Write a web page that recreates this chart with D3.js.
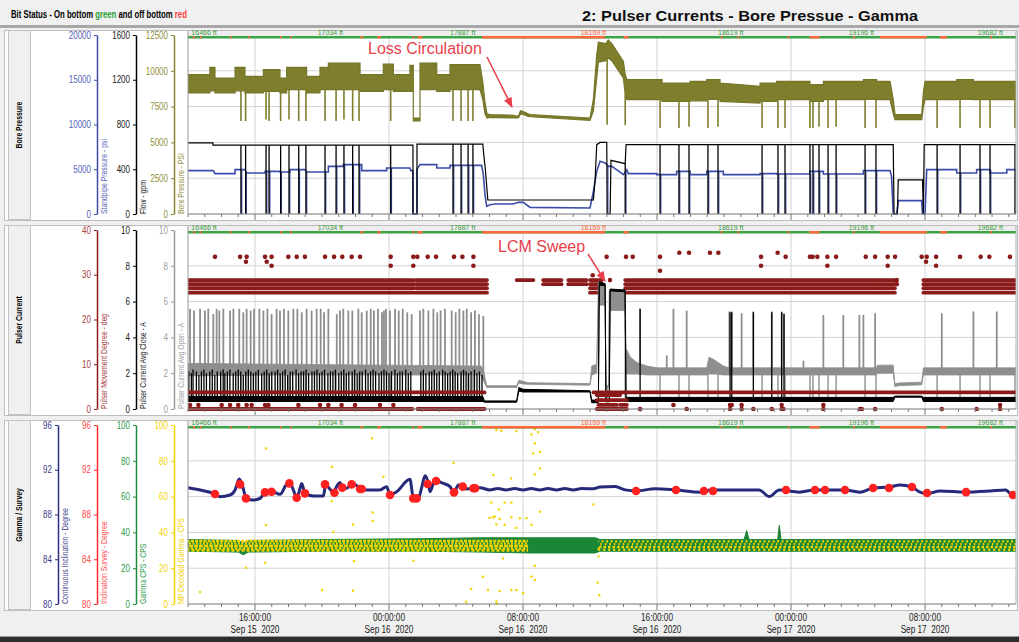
<!DOCTYPE html>
<html><head><meta charset="utf-8">
<script src="https://cdn.jsdelivr.net/npm/d3@7"></script>
<style>
body{margin:0;background:#f0f0f0;}
svg{display:block;font-family:"Liberation Sans Narrow","Arial Narrow","Liberation Sans",Arial,sans-serif;}
</style></head><body><svg id="c" width="1019" height="642"></svg>
<script>
// ================= DATA (time = hours after 2020-09-15 12:00) =================
const depthLabels = ["16466 ft","17034 ft","17887 ft","18169 ft","18619 ft","19196 ft","19682 ft"];
const depthLabelHours = [0.2, 8.5, 16.4, 24.2, 32.4, 40.2, 47.9];
const depthLabelOffBottom = [false,false,false,true,false,false,false];
const bitOffBottom = [[0.3,0.4],[0.7,0.8],[2.5,2.6],[3.6,3.7],[5.5,5.6],[6.1,6.2],[10.3,10.45],[11.3,11.5],[13.4,13.5],[13.7,14.0],[17.55,24.9],[26.0,26.3],[31.8,31.9],[32.8,32.9],[35.8,35.9],[37.1,37.7],[39.7,39.8],[41.3,44.1],[44.9,45.3],[47.9,48.0]];

// Bore pressure band [hour, high psi, low psi]
const boreBand = [[0,9730,8450],[1.31,9730,8450],[1.31,10242,8600],[1.61,10242,8600],[1.61,9497,8450],[2.81,9497,8450],[2.81,10242,8600],[3.40,10242,8600],[3.40,9613,8450],[4.50,9613,8450],[4.50,10079,8566],[5.49,10079,8566],[5.49,9497,8450],[5.89,9497,8450],[5.89,10242,8682],[7.08,10242,8682],[7.08,9613,8450],[7.88,9613,8450],[7.88,10242,8682],[8.38,10242,8682],[8.38,10545,8682],[10.27,10545,8682],[10.27,9730,8566],[11.66,9730,8566],[11.66,10475,8682],[12.26,10475,8682],[12.26,9730,8566],[13.25,9730,8566],[13.25,10381,8566],[13.45,10381,8566],[13.45,6700,6500],[13.85,6700,6500],[13.85,10545,8682],[14.85,10545,8682],[14.85,9730,8566],[15.64,9730,8566],[15.64,10428,8682],[17.43,10428,8682],[17.6,9200,8000],[17.73,7800,7000],[17.85,7000,6700],[18.03,6950,6750],[19.42,6890,6704],[19.72,6820,6704],[19.85,7215,6983],[20.02,7150,6950],[20.3,7000,6820],[20.42,6950,6800],[24.0,6700,6530],[24.2,8000,7200],[24.4,11100,9500],[24.5,12000,10600],[24.95,11900,10700],[25.09,12150,10900],[25.3,11900,10700],[25.99,10660,9500],[26.09,9800,8500],[26.2,9380,7984],[28.3,9380,7984],[28.3,9148,7868],[29.97,9148,7868],[29.97,9264,7900],[30.97,9264,7900],[30.97,9380,8000],[31.76,9380,8000],[31.76,9148,7868],[34.15,8915,7751],[34.15,9148,7868],[35.14,9148,7868],[35.14,9264,7984],[37.13,9264,7984],[37.13,9030,7868],[37.93,9030,7868],[37.93,9264,7984],[40.32,9264,7984],[40.32,9380,8000],[41.11,9380,8000],[41.11,9264,7984],[41.91,9264,7984],[42.1,8000,7000],[42.21,6950,6590],[43.8,6950,6590],[43.9,8500,7500],[44.0,9264,7984],[45.89,9264,7984],[45.89,9380,8000],[46.89,9380,8000],[46.89,9264,7984],[49.43,9264,7984]];
// Pumps-off events [hour, bore pressure minimum psi]
const pumpOffEvents = [[3.16,6490],[3.44,6490],[4.66,6600],[4.84,6490],[5.53,6490],[6.03,6600],[6.61,6490],[7.04,6490],[8.18,6490],[8.84,6490],[9.31,6600],[9.83,6490],[10.21,6490],[12.10,6490],[15.82,6490],[16.30,6490],[16.72,6490],[17.01,6490],[25.02,6240],[26.1,6200],[28.18,6000],[29.31,6000],[29.91,6100],[31.04,6000],[31.64,6100],[34.27,6000],[35.22,6000],[35.64,6000],[37.13,6000],[37.31,6000],[37.67,6100],[38.21,6000],[38.69,6100],[40.42,6000],[41.07,6000],[44.72,6000],[46.09,6000],[47.28,6000],[47.88,6000],[49.37,6000]];
// Flow [hour, gpm]
const flowPts = [[0,635],[1.49,635],[1.49,615],[13.43,615],[13.43,0],[13.67,0],[13.67,625],[17.6,625],[17.65,540],[17.75,400],[17.9,125],[24.2,125],[24.3,300],[24.4,620],[24.6,640],[25.0,640],[25.02,0],[25.2,0],[25.25,480],[26.1,450],[26.15,620],[42.1,620],[42.15,0],[42.35,0],[42.4,305],[43.85,305],[43.9,0],[43.95,620],[49.43,620]];
// Standpipe pressure [hour, psi]
const standpipePts = [[0,4850],[1.51,4850],[1.61,4506],[2.81,4506],[2.81,4953],[3.40,4953],[3.50,4581],[4.60,4581],[4.60,4767],[5.49,4767],[5.49,4693],[6.09,4693],[6.09,4953],[6.98,4953],[7.08,4693],[8.38,4693],[8.38,5326],[9.27,5326],[9.27,5512],[10.37,5512],[10.37,4842],[11.86,4842],[11.86,5140],[13.25,5140],[13.3,4842],[13.43,4842],[13.43,0],[13.67,0],[13.67,5000],[13.85,5512],[14.85,5512],[14.85,5140],[15.64,5140],[15.64,5438],[17.53,5438],[17.63,4395],[17.73,2160],[17.83,860],[18.03,1043],[18.33,1117],[19.42,1117],[19.72,1304],[20.02,1304],[20.42,745],[24.0,670],[24.2,2533],[24.4,4767],[24.6,5885],[24.9,5698],[25.1,5326],[25.3,5326],[26.0,4395],[26.19,4953],[26.29,4506],[27.98,4506],[27.98,4395],[29.17,4395],[29.17,4767],[29.97,4767],[29.97,4395],[30.97,4395],[30.97,4767],[31.96,4767],[31.96,4395],[34.15,4395],[34.15,4506],[35.14,4506],[35.14,4469],[37.13,4469],[37.13,4767],[37.93,4767],[37.93,4469],[40.32,4469],[40.32,4842],[41.91,4842],[42.0,4200],[42.1,0],[42.3,0],[42.41,1490],[43.8,1490],[43.85,0],[44.0,0],[44.1,4953],[45.89,4953],[45.89,4581],[47.08,4581],[47.08,4953],[47.88,4953],[47.88,4581],[48.88,4581],[48.88,4953],[49.43,4953]];

// Pulser current avg open band [hour, high A, low A]
const pulserOpenBand = [[0,2.55,1.85],[5.5,2.5,1.9],[12,2.45,1.9],[17.5,2.4,1.9],[17.63,2.2,1.6],[17.83,1.3,1.2],[19.62,1.3,1.2],[19.75,1.6,1.45],[20.0,1.55,1.4],[20.3,1.47,1.38],[24.0,1.42,1.33],[24.1,2.4,1.9],[24.4,2.5,2.0],[24.5,7.11,5.8],[24.9,7.0,5.8],[24.95,1.3,1.2],[25.1,1.3,1.2],[25.15,6.65,5.5],[26.09,6.6,5.5],[26.15,3.4,1.95],[26.4,2.9,1.95],[26.8,2.6,1.95],[27.4,2.4,1.9],[28,2.3,1.9],[30.97,2.3,1.9],[31.1,2.9,1.95],[31.5,2.7,1.95],[31.96,2.4,1.9],[32.3,2.3,1.9],[41.1,2.3,1.9],[41.15,2.45,2.0],[42.1,2.45,2.0],[42.2,1.4,1.25],[42.4,1.45,1.3],[43.8,1.5,1.35],[43.9,2.3,1.9],[49.43,2.3,1.9]];
// Pulser current avg close band [hour, high A, low A]
const pulserCloseBand = [[0,0.7,0.42],[17.6,0.7,0.42],[17.7,0.45,0.38],[19.62,0.45,0.38],[19.75,1.2,1.0],[20.0,1.1,0.95],[24.0,1.02,0.95],[24.1,0.5,0.35],[24.5,0.5,0.35],[24.55,7.11,6.9],[24.9,7.0,6.9],[24.95,0.5,0.4],[25.15,0.5,0.4],[25.2,6.7,6.6],[26.09,6.65,6.55],[26.15,0.65,0.42],[42.1,0.65,0.42],[42.2,0.72,0.66],[43.8,0.72,0.66],[43.9,0.65,0.42],[49.43,0.65,0.42]];
// Open-current spikes [hour, peak A]
const pulserOpenSpikes = [[0.12,5.6],[0.36,5.5],[0.72,5.6],[1.01,5.5],[1.21,5.6],[1.51,5.3],[1.71,5.6],[1.87,5.5],[2.11,5.6],[2.51,5.5],[2.71,5.6],[3.06,5.6],[3.3,5.4],[3.5,5.6],[3.74,5.5],[3.94,5.6],[4.26,5.6],[4.5,5.5],[4.74,5.6],[4.99,5.3],[5.29,5.6],[5.49,5.5],[5.73,5.6],[5.99,5.5],[6.29,5.6],[6.53,5.6],[6.79,5.4],[7.08,5.6],[7.38,5.5],[7.68,5.6],[7.92,5.6],[8.12,5.4],[8.38,5.6],[8.88,5.3],[9.07,5.5],[9.27,5.6],[9.57,5.5],[9.81,5.5],[10.17,5.6],[10.37,5.4],[10.67,5.5],[10.91,5.6],[11.1,5.5],[11.34,5.6],[11.58,5.4],[11.7,5.5],[11.82,5.6],[12.06,5.5],[12.36,5.6],[12.58,5.5],[12.82,5.6],[13.09,5.4],[13.35,5.3],[13.85,5.5],[14.05,5.6],[14.35,5.5],[14.65,5.6],[14.88,5.4],[15.08,5.5],[15.34,5.6],[15.74,5.5],[15.98,5.4],[16.2,5.6],[16.44,5.5],[16.64,5.6],[16.9,5.4],[17.13,5.5],[17.37,5.3],[17.63,5.2],[26.99,5.6],[28.58,3.0],[28.98,5.6],[29.77,5.5],[32.32,5.45],[32.46,5.45],[33.05,5.35],[33.75,5.45],[34.85,5.45],[35.44,5.45],[35.58,5.35],[36.74,2.7],[37.93,5.25],[39.12,5.25],[40.08,5.25],[40.32,5.25],[41.02,5.35],[45.0,5.35],[46.89,5.45],[48.28,5.45]];
// Close-current spikes [hour, peak A]
const pulserCloseSpikes = [[0.05,2.1],[0.2,2.0],[0.3,2.2],[0.5,2.1],[0.65,1.9],[0.8,2.1],[0.95,2.2],[1.1,2.0],[1.3,2.1],[1.45,2.2],[1.6,1.9],[1.75,2.1],[1.95,2.1],[2.1,2.2],[2.2,2.0],[2.35,2.1],[2.5,2.2],[2.7,2.0],[2.85,2.1],[3.0,2.2],[3.15,2.1],[3.3,1.9],[3.45,2.1],[3.6,2.2],[3.75,2.1],[3.9,2.0],[4.05,2.1],[4.2,2.2],[4.4,2.0],[4.55,2.1],[4.7,2.2],[4.85,2.0],[5.0,2.1],[5.2,2.1],[5.35,2.2],[5.5,2.0],[5.65,2.1],[5.8,2.2],[5.95,1.9],[6.1,2.1],[6.25,2.1],[6.45,2.2],[6.6,2.0],[6.75,2.1],[6.9,2.1],[7.05,2.2],[7.2,2.0],[7.4,2.1],[7.55,2.1],[7.7,2.2],[7.85,2.0],[8.0,2.1],[8.15,2.2],[8.35,2.0],[8.5,2.1],[8.65,2.1],[8.8,2.2],[9.0,2.0],[9.15,2.1],[9.3,2.2],[9.45,2.0],[9.6,2.1],[9.8,2.1],[9.95,2.2],[10.1,2.0],[10.25,2.1],[10.4,2.1],[10.6,2.2],[10.75,2.0],[10.9,2.1],[11.05,2.2],[11.2,2.1],[11.4,2.0],[11.55,2.1],[11.7,2.2],[11.85,2.1],[12.0,2.0],[12.15,2.1],[12.35,2.2],[12.5,2.0],[12.65,2.1],[12.8,2.1],[13.0,2.2],[13.15,2.0],[13.3,2.1],[13.9,2.1],[14.05,2.2],[14.2,2.0],[14.4,2.1],[14.55,2.1],[14.7,2.2],[14.85,2.0],[15.0,2.1],[15.2,2.2],[15.35,2.1],[15.5,2.0],[15.65,2.1],[15.8,2.2],[15.95,2.1],[16.1,2.0],[16.3,2.1],[16.45,2.2],[16.6,2.1],[16.75,2.0],[16.9,2.1],[17.1,2.2],[17.25,2.0],[17.4,2.1],[17.55,1.9],[26.99,5.6],[32.36,5.4],[32.46,5.4],[33.75,5.4],[34.85,5.4],[35.44,5.4],[35.58,5.3]];
// Pulser movement degree: dense dot rows
const pulserRowDegrees = [28.8, 27.9, 27.0, 26.0];
const pulserRowSpans = [[0,13.5,4],[13.62,17.85,4],[19.62,20.62,1],[21.2,22.3,2],[22.7,23.8,2],[24.0,24.7,4],[26.1,41.1,4],[41.18,42.2,4],[43.9,49.43,4]];
const pulserLowRowSpans = [[0,17.7,3.7],[24.2,49.43,3.7],[24.4,25.8,3.13],[24.4,26.2,2.0],[24.5,25.6,0.9],[25.8,26.2,0.9],[24.4,26.2,0],[0,1.9,0],[2.0,3.6,0],[3.7,6.3,0],[6.4,8.9,0],[9.0,12.4,0],[12.5,13.4,0],[13.7,17.7,0]];
const pulserScatter = [[1.61,34],[3.11,34],[3.5,34],[4.6,34],[4.99,34],[5.99,34],[6.49,34],[6.98,34],[8.18,34],[8.72,34],[9.21,34],[9.77,34],[10.27,34],[12.1,34],[13.45,34],[13.69,34],[14.31,34],[14.81,34],[15.88,34],[16.38,34],[17.04,34],[3.46,32.9],[4.7,32.9],[4.99,32],[12.1,32],[13.45,32],[17.04,32],
 [24.99,34],[26.15,34],[26.55,34],[28.18,34],[34.21,34],[35.68,34],[37.13,34],[37.29,34],[37.57,34],[38.17,34],[38.69,34],[40.46,34],[41.02,34],[41.77,34],[42.21,34],[43.8,34],[44.1,34],[44.66,34],[46.09,34],[47.32,34],[47.84,34],[49.07,34],[29.33,34.9],[29.91,34.9],[31.16,34.9],[31.66,34.9],[35.2,34.9],[34.21,32],[38.17,32],[41.77,32],[44.66,32],[44.06,32.9],[28.18,30.9],[24.16,29.9],[25.19,28.8],[42.31,28.8],[42.31,27.9],
 [0.12,0.9],[0.62,0.9],[2.01,0.9],[2.51,0.9],[3.0,0.9],[3.5,0.9],[3.8,0.9],[4.6,0.9],[4.8,0.9],[6.59,0.9],[7.88,0.9],[8.38,0.9],[9.17,0.9],[9.97,0.9],[11.46,0.9],[12.26,0.9],[28.98,0.9],[32.36,0.9],[32.46,0.9],[33.05,0.9],[35.44,0.9],[37.93,0.9],[48.48,0.9],
 [26.99,0],[29.77,0],[32.36,0],[33.05,0],[33.75,0],[34.85,0],[35.44,0],[35.54,0],[37.93,0],[40.12,0],[40.22,0],[41.02,0],[45.0,0],[47.08,0],[48.48,0]];

// Continuous inclination [hour, degree]
const contIncPts = [[0,90.4],[0.72,90.19],[1.51,89.89],[1.91,89.59],[2.51,89.74],[2.81,90.19],[3.06,91.17],[3.2,90.78],[3.5,89.44],[3.9,89.29],[4.3,89.44],[4.6,89.98],[4.99,90.1],[5.49,89.8],[5.85,90.63],[6.05,90.93],[6.29,90.19],[6.49,89.5],[6.69,90.34],[6.79,90.78],[6.98,89.89],[7.48,89.65],[8.08,89.65],[8.22,90.63],[8.68,89.98],[8.92,90.63],[9.07,90.87],[9.23,90.4],[9.47,90.34],[9.77,90.69],[9.97,90.69],[10.27,90.28],[10.67,90.19],[11.46,90.19],[11.86,90.49],[12.06,89.74],[12.46,90.04],[13.25,91.14],[13.45,89.5],[13.75,89.44],[13.95,90.4],[14.15,91.47],[14.35,90.78],[14.45,90.04],[14.65,90.78],[14.81,90.99],[15.24,90.78],[15.64,90.49],[15.88,89.98],[16.14,90.63],[16.4,90.49],[16.64,90.28],[17.04,90.34],[17.43,90.4],[18.0,90.2],[18.5,90.32],[19.0,90.2],[19.5,90.32],[20,90.2],[20.5,90.32],[21,90.2],[21.5,90.32],[22,90.2],[22.5,90.32],[23,90.2],[23.5,90.32],[24.2,90.3],[24.6,90.46],[25.5,90.5],[26.1,90.2],[26.75,90.1],[27.9,90.3],[29.13,90.19],[30.6,90.0],[31.2,90.19],[34.1,90.19],[34.7,89.6],[35.3,90.19],[36.5,90.0],[37.4,90.19],[38.0,90.19],[39.2,90.19],[40.1,90.0],[40.9,90.37],[41.9,90.46],[42.5,90.64],[43.2,90.46],[43.7,90.0],[44.1,89.85],[44.9,90.1],[46.4,90.0],[47.9,90.1],[48.8,90.19],[49.25,89.7],[49.43,89.7]];
// Inclination survey [hour, degree]
const surveyPts = [[1.61,89.83],[3.11,90.69],[3.46,89.44],[4.6,89.98],[4.99,90.04],[6.05,90.78],[6.49,89.5],[6.98,89.89],[8.18,90.69],[8.74,89.95],[9.21,90.4],[9.77,90.69],[10.27,90.28],[10.37,90.28],[12.06,89.74],[13.45,89.44],[13.65,89.44],[14.31,90.72],[14.81,90.99],[15.88,89.98],[16.4,90.49],[17.04,90.34],[17.14,90.34],[26.75,90.1],[29.13,90.19],[30.8,90.1],[31.34,90.1],[35.7,90.19],[37.43,90.19],[38.03,90.19],[39.22,90.19],[40.9,90.37],[41.85,90.37],[43.22,90.46],[44.12,89.92],[46.45,90.0],[49.25,89.74]];
// Gamma CPS band [hour, high, low]
const gammaBand = [[0,36,29.5],[3.0,35.5,29],[3.3,34,27.5],[3.6,35.5,29],[8,36,29.5],[14,36.5,29.5],[17.5,37,29],[20.5,37,28.5],[24.3,37,28.5],[24.6,36,29.5],[33.2,36,29.5],[33.35,41,29.5],[33.5,36,29.5],[35.2,36,29.5],[35.3,44,29.5],[35.4,36,29.5],[49.43,36,29.5]];
// MP decoded gamma dense rows [start hour, end hour, cps]
const mpGammaRows = [[0,20.3,35.2],[0,20.3,33.8],[0,20.3,32.4],[0,20.3,31.0],[0,20.3,29.9],[24.5,49.43,35.0],[24.5,49.43,33.4],[24.5,49.43,31.8],[24.5,49.43,30.3]];
// MP decoded gamma outliers [hour, cps]
const mpGammaOutliers = [[4.65,87],[8.58,76.7],[10.97,92.6],[11.66,71.1],[15.84,78.9],[18.23,72.1],[19.28,70.2],[18.4,97.2],[18.7,96.8],[19.6,96.6],[20.7,97.7],[20.9,96.1],[20.5,94.8],[20.7,89.8],[20.6,84.2],[21.0,85.1],[21.0,75.8],[20.7,72.5],[8.58,57.5],[11.02,51.2],[11.02,46.4],[4.65,44.1],[9.85,44.5],[8.68,40.4],[18.1,56.8],[18.2,48.4],[18.0,48.2],[18.3,48.9],[18.4,44.5],[18.55,52.8],[18.6,47.6],[18.9,44.3],[18.9,56.7],[19.3,56.8],[19.3,48.5],[19.6,42.6],[19.8,48.0],[20.2,48.0],[20.5,44.3],[21.0,51.6],[24.2,55.7],[4.6,23.1],[3.46,20.3],[9.9,24],[13.45,24.2],[18.8,25.5],[20.7,21.4],[17.6,15.3],[20.5,15.3],[20.7,13.5],[16.9,8.4],[17.9,7.8],[18.6,7.3],[19.3,7.8],[19.6,7.8],[20.0,6.1],[8.0,7.8],[9.85,7.5],[0.72,6.7],[16.6,1.3],[18.4,1.5],[18.45,0.2],[24.5,31],[24.5,26.6],[24.45,12],[24.55,5]];

// ================= DRAWING =================
const svg = d3.select("#c");
const X0 = 188, X1 = 1016;
const T0 = Date.UTC(2020, 8, 15, 12, 0, 0);
const H_END = 49.43;
const toDate = h => new Date(T0 + h * 3600000);
const x = d3.scaleUtc().domain([toDate(0), toDate(H_END)]).range([X0, X1]);
const xh = h => x(toDate(h));
function bandAt(band, h, idx){
  for (let i = 1; i < band.length; i++){
    if (band[i][0] >= h){
      const a = band[i-1], b = band[i];
      const t = b[0] === a[0] ? 1 : (h - a[0]) / (b[0] - a[0]);
      return a[idx] + (b[idx] - a[idx]) * t;
    }
  }
  return band[band.length-1][idx];
}
// condense text horizontally (narrow-font look)
function squeeze(sel, f){
  sel.each(function(){
    const w = this.getComputedTextLength();
    d3.select(this).attr("textLength", w * f).attr("lengthAdjust","spacingAndGlyphs");
  });
}

svg.append("rect").attr("width",1019).attr("height",642).attr("fill","#f0f0f0");
// header (condensed by scaling the group)
const hdrG = svg.append("g");
const hdr = hdrG.append("text").attr("x",0).attr("y",0).attr("font-family","Liberation Sans, Arial, sans-serif").attr("font-size",11.5).attr("font-weight","bold").attr("fill","#000");
hdr.append("tspan").text("Bit Status - On bottom ");
hdr.append("tspan").attr("fill","#27a035").text("green");
hdr.append("tspan").text(" and off bottom ");
hdr.append("tspan").attr("fill","#ff3b3b").text("red");
const hdrW = hdr.node().getComputedTextLength();
hdrG.attr("transform",`translate(11,18) scale(${176 / hdrW},1)`);
svg.append("text").attr("x",582).attr("y",21).attr("font-family","Liberation Sans, Arial, sans-serif").attr("font-size",15.5).attr("font-weight","bold").attr("fill","#111")
  .attr("textLength",336).attr("lengthAdjust","spacingAndGlyphs").text("2: Pulser Currents - Bore Pressue - Gamma");
svg.append("rect").attr("x",0).attr("y",25).attr("width",1019).attr("height",3).attr("fill","#a8a8a8");

const panelTops = [30, 225, 420];
const panelNames = ["Bore Pressure", "Pulser Current", "Gamma / Survey"];
const axisXs = [58, 97, 136, 174];
const panelAxes = [
  [null,
   {dom:[0,20000], ticks:[0,5000,10000,15000,20000], line:"#3a4ca8", txt:"#5563b8", title:"Standpipe Pressure - psi"},
   {dom:[0,1600], ticks:[0,400,800,1200,1600], line:"#000", txt:"#222", title:"Flow - gpm"},
   {dom:[0,12500], ticks:[0,2500,5000,7500,10000,12500], line:"#85852e", txt:"#8f8f3c", title:"Bore Pressure - PSI"}],
  [null,
   {dom:[0,40], ticks:[0,10,20,30,40], line:"#8b1a1a", txt:"#a84040", title:"Pulser Movement Degree - deg"},
   {dom:[0,10], ticks:[0,2,4,6,8,10], line:"#000", txt:"#222", title:"Pulser Current Avg Close - A"},
   {dom:[0,10], ticks:[0,2,4,6,8,10], line:"#9a9a9a", txt:"#a0a0a0", title:"Pulser Current Avg Open - A"}],
  [{dom:[80,96], ticks:[80,84,88,92,96], line:"#2b2f80", txt:"#3a3e8a", title:"Continuous Inclination - Degree"},
   {dom:[80,96], ticks:[80,84,88,92,96], line:"#ff2a2a", txt:"#ff4a4a", title:"Inclination Survey - Degree"},
   {dom:[0,100], ticks:[0,20,40,60,80,100], line:"#1e8c3c", txt:"#2e9a4a", title:"Gamma CPS - CPS"},
   {dom:[0,100], ticks:[0,20,40,60,80,100], line:"#f2d200", txt:"#f2d200", title:"MP Decoded Gamma - CPS"}]
];

const majorTicks = d3.utcHour.every(8).range(toDate(0), toDate(H_END));
const minorTicks = d3.utcHour.every(1).range(toDate(0), toDate(H_END));
const scales = [];

panelTops.forEach((top, pi) => {
  const aTop = top + 5, aBot = top + 184;
  svg.append("rect").attr("x",4.5).attr("y",top+0.5).attr("width",1013).attr("height",190).attr("fill","#fff").attr("stroke","#bdbdbd");
  svg.append("rect").attr("x",8.5).attr("y",top+0.5).attr("width",22).attr("height",189).attr("fill","#f0f0f0").attr("stroke","#c4c4c4");
  svg.append("text").attr("transform",`translate(22,${top+95}) rotate(-90)`).attr("text-anchor","middle")
    .attr("font-size",9.5).attr("font-weight","bold").attr("fill","#000").text(panelNames[pi]).call(squeeze, 0.72);
  const ys = panelAxes[pi].map(a => a ? d3.scaleLinear().domain(a.dom).range([aBot, aTop]) : null);
  scales.push({ys, aTop, aBot});
  panelAxes[pi].forEach((a, ai) => {
    if (!a) return;
    const g = svg.append("g").attr("transform",`translate(${axisXs[ai]},0)`)
      .call(d3.axisLeft(ys[ai]).tickValues(a.ticks).tickSize(3).tickPadding(3).tickSizeOuter(0).tickFormat(d3.format("d")));
    g.select(".domain").attr("stroke",a.line).attr("stroke-width",1.5);
    g.selectAll(".tick line").attr("stroke",a.line);
    g.selectAll(".tick text").attr("fill",a.txt).attr("font-size",10).attr("font-family",null).call(squeeze, 0.8);
    svg.append("text").attr("transform",`translate(${axisXs[ai]+10},${aBot}) rotate(-90)`).attr("text-anchor","start")
      .attr("font-size",9.5).attr("fill",a.txt).text(a.title).call(squeeze, 0.72);
  });
  // plot area
  svg.append("rect").attr("x",X0).attr("y",aTop).attr("width",X1-X0).attr("height",aBot-aTop).attr("fill","#fff");
  const grid = svg.append("g");
  majorTicks.forEach(t => grid.append("line").attr("x1",x(t)).attr("x2",x(t)).attr("y1",aTop).attr("y2",aBot).attr("stroke","#d3d3d3"));
  panelAxes[pi][3].ticks.forEach(v => grid.append("line").attr("x1",X0).attr("x2",X1).attr("y1",ys[3](v)).attr("y2",ys[3](v)).attr("stroke","#d3d3d3"));
  svg.append("clipPath").attr("id","clip"+pi).append("rect").attr("x",X0).attr("y",aTop).attr("width",X1-X0).attr("height",aBot-aTop+2);
});

const line = y => d3.line().x(d => xh(d[0])).y(d => y(d[1]));
const area = y => d3.area().x(d => xh(d[0])).y1(d => y(d[1])).y0(d => y(d[2]));

// ---- Panel 1 ----
{
  const {ys} = scales[0];
  const g = svg.append("g").attr("clip-path","url(#clip0)");
  const yB = ys[3], yF = ys[2], yS = ys[1];
  g.append("path").datum(boreBand).attr("d", area(yB)).attr("fill","#7e7e2c").attr("stroke","#75752a").attr("stroke-width",1.2);
  pumpOffEvents.forEach(([h, m]) => g.append("line").attr("x1",xh(h)).attr("x2",xh(h)).attr("y1",yB(bandAt(boreBand,h,2))).attr("y2",yB(m)).attr("stroke","#7e7e2c").attr("stroke-width",1.6));
  g.append("path").datum(standpipePts).attr("d", line(yS)).attr("fill","none").attr("stroke","#3a4ca8").attr("stroke-width",1.6);
  pumpOffEvents.forEach(([h]) => g.append("line").attr("x1",xh(h)+0.8).attr("x2",xh(h)+0.8).attr("y1",yS(bandAt(standpipePts,h,1))).attr("y2",yS(0)).attr("stroke","#3a4ca8").attr("stroke-width",1.2));
  g.append("path").datum(flowPts).attr("d", line(yF)).attr("fill","none").attr("stroke","#000").attr("stroke-width",1.2);
  pumpOffEvents.forEach(([h]) => g.append("line").attr("x1",xh(h)).attr("x2",xh(h)).attr("y1",yF(bandAt(flowPts,h,1))).attr("y2",yF(0)).attr("stroke","#000").attr("stroke-width",1.3));
}
// ---- Panel 2 ----
{
  const {ys} = scales[1];
  const g = svg.append("g").attr("clip-path","url(#clip1)");
  const yD = ys[1], yC = ys[2], yO = ys[3];
  const red = "#8b1a1a";
  pulserRowSpans.forEach(([a,b,n]) => pulserRowDegrees.slice(0,n).forEach(v =>
    g.append("line").attr("x1",xh(a)).attr("x2",xh(b)).attr("y1",yD(v)).attr("y2",yD(v)).attr("stroke",red).attr("stroke-width",3.8).attr("stroke-linecap","round")));
  g.append("path").datum(pulserOpenBand).attr("d", area(yO)).attr("fill","#8e8e8e").attr("stroke","#8e8e8e").attr("stroke-width",0.8);
  pulserOpenSpikes.forEach(([h,v]) => g.append("line").attr("x1",xh(h)).attr("x2",xh(h)).attr("y1",yO(bandAt(pulserOpenBand,h,2))).attr("y2",yO(v)).attr("stroke","#8e8e8e").attr("stroke-width",1.8));
  pumpOffEvents.forEach(([h]) => g.append("line").attr("x1",xh(h)).attr("x2",xh(h)).attr("y1",yO(bandAt(pulserOpenBand,h,2))).attr("y2",yO(0.6)).attr("stroke","#8e8e8e").attr("stroke-width",1.4));
  g.append("path").datum(pulserCloseBand).attr("d", area(yC)).attr("fill","#000").attr("stroke","#000").attr("stroke-width",1);
  pulserCloseSpikes.forEach(([h,v]) => g.append("line").attr("x1",xh(h)).attr("x2",xh(h)).attr("y1",yC(0.5)).attr("y2",yC(v)).attr("stroke","#000").attr("stroke-width",1.3));
  pulserLowRowSpans.forEach(([a,b,v]) =>
    g.append("line").attr("x1",xh(a)).attr("x2",xh(b)).attr("y1",yD(v)).attr("y2",yD(v)).attr("stroke",red).attr("stroke-width",3.8).attr("stroke-linecap","round"));
  pulserScatter.forEach(([h,v]) => g.append("circle").attr("cx",xh(h)).attr("cy",yD(v)).attr("r",2.3).attr("fill",red));
}
// ---- Panel 3 ----
{
  const {ys} = scales[2];
  const g = svg.append("g").attr("clip-path","url(#clip2)");
  const yI = ys[0], yR = ys[1], yG = ys[2], yM = ys[3];
  g.append("path").datum(gammaBand).attr("d", area(yG)).attr("fill","#1a8636").attr("stroke","#1a8636").attr("stroke-width",1);
  const dashL = ["3 1.2","2 1.5","4 1","2.5 1.5","3 2"], dashR = ["2 2.5","1.5 3","2.5 2","2 3"];
  let li = 0, ri = 0;
  mpGammaRows.forEach(([a,b,v]) => {
    const left = a < 10;
    const da = left ? dashL[li++ % dashL.length] : dashR[ri++ % dashR.length];
    g.append("line").attr("x1",xh(a)).attr("x2",xh(b)).attr("y1",yM(v)).attr("y2",yM(v))
     .attr("stroke","#f2d400").attr("stroke-width",2.4).attr("stroke-dasharray", da).attr("stroke-dashoffset", (left ? li : ri) * 1.3);
  });
  mpGammaOutliers.forEach(([h,v]) => g.append("rect").attr("x",xh(h)-1).attr("y",yM(v)-1).attr("width",2.2).attr("height",2.2).attr("fill","#f2d400"));
  g.append("path").attr("d", d3.line().curve(d3.curveMonotoneX).x(d=>xh(d[0])).y(d=>yI(d[1]))(contIncPts))
    .attr("fill","none").attr("stroke","#252a7a").attr("stroke-width",3);
  surveyPts.forEach(([h,v]) => g.append("circle").attr("cx",xh(h)).attr("cy",yR(v)).attr("r",4.3).attr("fill","#ff2020"));
}

// strips, borders and time axes per panel
scales.forEach(({aTop, aBot}, pi) => {
  const top = panelTops[pi];
  svg.append("rect").attr("x",X0).attr("y",top+1).attr("width",X1-X0).attr("height",aTop-top+1).attr("fill","#eeeeee");
  depthLabels.forEach((t,i) => svg.append("text").attr("x",xh(depthLabelHours[i])).attr("y",aTop)
    .attr("text-anchor", i === 0 ? "start" : "middle").attr("font-size",7).attr("font-family","Liberation Sans, Arial, sans-serif")
    .attr("fill", depthLabelOffBottom[i] ? "#ff6a3d" : "#3a9a3a").text(t));
  svg.append("rect").attr("x",X0).attr("y",aTop+1).attr("width",X1-X0).attr("height",2.5).attr("fill","#3ca348");
  bitOffBottom.forEach(([a,b]) => svg.append("rect").attr("x",xh(a)).attr("y",aTop+1).attr("width",Math.max(1,xh(b)-xh(a))).attr("height",2.5).attr("fill","#ff6a3d"));
  svg.append("line").attr("x1",X0).attr("x2",X0).attr("y1",top+1).attr("y2",aBot).attr("stroke","#9a9a9a");
  svg.append("line").attr("x1",X1).attr("x2",X1).attr("y1",top+1).attr("y2",aBot).attr("stroke","#b0b0b0");
  const ax = svg.append("g").attr("transform",`translate(0,${aBot})`);
  ax.append("line").attr("x1",X0).attr("x2",X1).attr("stroke","#8a8a8a");
  minorTicks.forEach(t => {
    const major = t.getUTCHours() % 8 === 0;
    ax.append("line").attr("x1",x(t)).attr("x2",x(t)).attr("y1",0).attr("y2",major ? 6 : 3).attr("stroke","#777");
  });
});
// time labels
majorTicks.forEach(t => {
  svg.append("text").attr("x",x(t)).attr("y",621).attr("text-anchor","middle").attr("font-size",10).attr("fill","#222").text(d3.utcFormat("%H:%M:%S")(t)).call(squeeze, 0.82);
  svg.append("text").attr("x",x(t)).attr("y",633).attr("text-anchor","middle").attr("font-size",10).attr("fill","#222").style("white-space","pre").text(d3.utcFormat("%b %d  %Y")(t)).call(squeeze, 0.82);
});
svg.append("rect").attr("x",0).attr("y",636).attr("width",1019).attr("height",1).attr("fill","#9a9a9a");
svg.append("rect").attr("x",0).attr("y",637).attr("width",1019).attr("height",5).attr("fill","#2d2d2d");

// annotations
const defs = svg.append("defs");
defs.append("marker").attr("id","arr").attr("viewBox","0 0 10 10").attr("refX",9).attr("refY",5).attr("markerWidth",7).attr("markerHeight",7).attr("orient","auto")
  .append("path").attr("d","M0,1 L10,5 L0,9 z").attr("fill","#e8404a");
svg.append("text").attr("x",368).attr("y",54).attr("font-family","Liberation Sans, Arial, sans-serif").attr("font-size",16).attr("fill","#e8404a").text("Loss Circulation");
svg.append("line").attr("x1",487).attr("y1",57).attr("x2",512).attr("y2",107).attr("stroke","#e8404a").attr("stroke-width",1.5).attr("marker-end","url(#arr)");
svg.append("text").attr("x",498).attr("y",252).attr("font-family","Liberation Sans, Arial, sans-serif").attr("font-size",16).attr("fill","#e8404a").text("LCM Sweep");
svg.append("line").attr("x1",588).attr("y1",254).attr("x2",605).attr("y2",281).attr("stroke","#e8404a").attr("stroke-width",1.5).attr("marker-end","url(#arr)");
</script></body></html>
